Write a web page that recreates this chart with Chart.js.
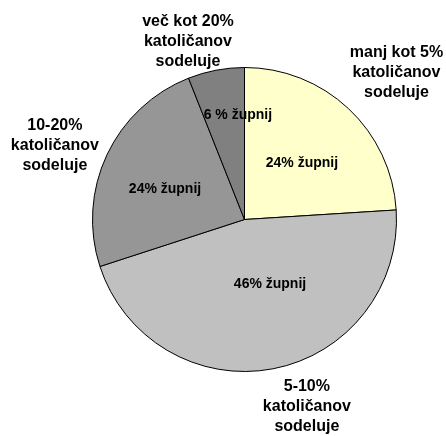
<!DOCTYPE html>
<html>
<head>
<meta charset="utf-8">
<script src="https://cdn.jsdelivr.net/npm/chart.js@4"></script>
<style>
    html, body { margin: 0; padding: 0; background: #ffffff; }
    #wrap { width: 446px; height: 436px; }
</style>
</head>
<body>
<div id="wrap"><canvas id="pieChart" width="446" height="436"></canvas></div>
<script>
// podatki z grafa
const categories = [
    ['manj kot 5%', 'katoličanov', 'sodeluje'],
    ['5-10%', 'katoličanov', 'sodeluje'],
    ['10-20%', 'katoličanov', 'sodeluje'],
    ['več kot 20%', 'katoličanov', 'sodeluje']
];
const values = [24, 46, 24, 6];
const sliceLabels = ['24% župnij', '46% župnij', '24% župnij', '6 % župnij'];

const colors = ['#FFFFCC', '#C0C0C0', '#969696', '#808080'];

// kje so napisi (kot v stopinjah, razdalja v deležu polmera)
const innerPos = [{a: -44.5, d: 0.53}, {a: 68.4, d: 0.456}, {a: 201, d: 0.56}, {a: -93.6, d: 0.69}];
const outerPos = [{a: -44, d: 1.39}, {a: 71.6, d: 1.30}, {a: 201.4, d: 1.34}, {a: -107.6, d: 1.23}];

const labelPlugin = {
    id: 'sliceText',
    afterDatasetsDraw(chart) {
        const ctx = chart.ctx;
        const arcs = chart.getDatasetMeta(0).data;
        ctx.save();
        ctx.fillStyle = '#000000';
        ctx.textAlign = 'center';
        ctx.textBaseline = 'middle';

        arcs.forEach((arc, i) => {
            const r = arc.outerRadius;
            // notranji napis
            let p = innerPos[i];
            let ang = p.a * Math.PI / 180;
            ctx.font = 'bold 14px "Liberation Sans", Arial, sans-serif';
            ctx.fillText(sliceLabels[i], arc.x + Math.cos(ang) * r * p.d, arc.y + Math.sin(ang) * r * p.d);

            // zunanji napis
            p = outerPos[i];
            ang = p.a * Math.PI / 180;
            const cx = arc.x + Math.cos(ang) * r * p.d;
            const cy = arc.y + Math.sin(ang) * r * p.d;
            const lines = categories[i];
            const lh = 20;
            ctx.font = 'bold 16px "Liberation Sans", Arial, sans-serif';
            lines.forEach((line, j) => {
                ctx.fillText(line, cx, cy + (j - (lines.length - 1) / 2) * lh);
            });
        });
        ctx.restore();
    }
};

function createChart() {
    const ctx = document.getElementById('pieChart').getContext('2d');
    new Chart(ctx, {
        type: 'pie',
        data: {
            labels: categories.map(c => c.join(' ')),
            datasets: [{
                data: values,
                backgroundColor: colors,
                borderColor: '#000000',
                borderWidth: 1
            }]
        },
        options: {
            responsive: false,
            animation: false,
            radius: 152,
            layout: {
                padding: { left: 43, right: 0, top: 3, bottom: 0 }
            },
            plugins: {
                legend: { display: false },
                tooltip: { enabled: false }
            }
        },
        plugins: [labelPlugin]
    });
}

document.addEventListener('DOMContentLoaded', createChart);
</script>
</body>
</html>
